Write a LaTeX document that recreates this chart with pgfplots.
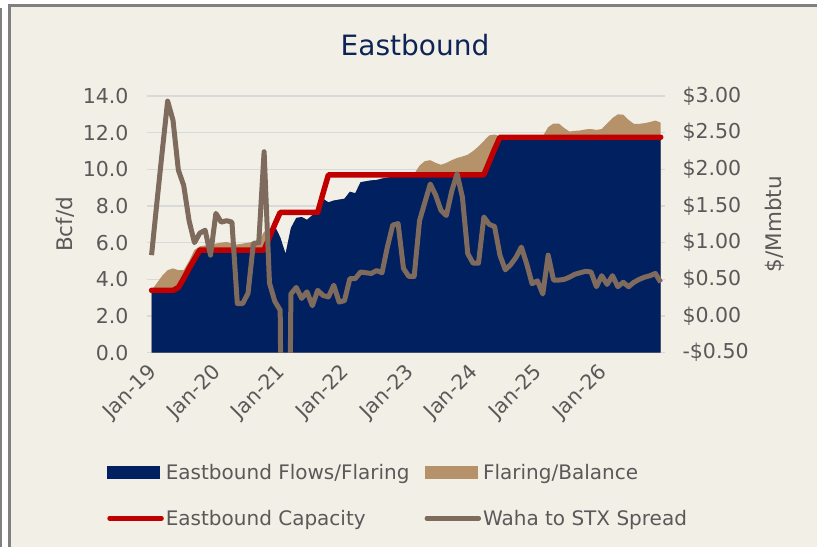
\documentclass[border=0pt]{standalone}
\usepackage{pgfplots}
\pgfplotsset{compat=1.18}
\usepackage{pgfplotstable}
\usepackage{fontspec}
\setmainfont{DejaVu Sans}
\definecolor{bgbeige}{HTML}{F2F0E6}
\definecolor{navy}{HTML}{002060}
\definecolor{tanc}{HTML}{B5926A}
\definecolor{capred}{HTML}{C00000}
\definecolor{spreadgray}{HTML}{7F6A5E}
\definecolor{gridgray}{HTML}{D9D9D9}
\definecolor{txtgray}{HTML}{595959}
\definecolor{titlenavy}{HTML}{0E2356}
\definecolor{framegray}{HTML}{808080}

\pgfplotstableread{
m flows total cap spread
0 3.4 3.4 3.4 0.83
1 3.4 3.8 3.4 1.55
2 3.4 4.2 3.4 2.25
3 3.4 4.5 3.4 2.93
4 3.4 4.6 3.4 2.67
5 3.55 4.5 3.55 1.99
6 4.05 4.5 4.05 1.78
7 4.6 5.0 4.6 1.30
8 5.1 5.6 5.1 1.00
9 5.6 5.8 5.6 1.13
10 5.6 5.85 5.6 1.17
11 5.6 5.87 5.6 0.83
12 5.6 5.95 5.6 1.40
13 5.6 6.0 5.6 1.28
14 5.6 6.04 5.6 1.30
15 5.6 5.95 5.6 1.28
16 5.6 5.9 5.6 0.17
17 5.6 5.95 5.6 0.17
18 5.6 6.0 5.6 0.31
19 5.6 6.05 5.6 0.99
20 5.6 6.1 5.6 1.00
21 5.6 6.6 5.6 2.24
22 6.3 6.7 6.3 0.45
23 6.9 6.9 7.0 0.20
24 6.3 6.3 7.65 0.08
25 5.4 5.4 7.65 -8
26 6.8 6.8 7.65 0.30
27 7.35 7.35 7.65 0.39
28 7.4 7.4 7.65 0.24
29 7.25 7.25 7.65 0.33
30 7.5 7.5 7.65 0.14
31 7.6 7.6 7.65 0.35
32 8.4 8.4 8.7 0.28
33 8.2 8.2 9.7 0.26
34 8.3 8.3 9.7 0.42
35 8.35 8.35 9.7 0.19
36 8.4 8.4 9.7 0.21
37 8.78 8.78 9.7 0.51
38 8.7 8.7 9.7 0.51
39 9.3 9.3 9.7 0.60
40 9.35 9.35 9.7 0.59
41 9.4 9.4 9.7 0.58
42 9.42 9.42 9.7 0.62
43 9.5 9.5 9.7 0.59
44 9.55 9.55 9.7 0.94
45 9.6 9.6 9.7 1.24
46 9.7 9.7 9.7 1.26
47 9.7 9.7 9.7 0.65
48 9.7 9.7 9.7 0.54
49 9.7 9.75 9.7 0.54
50 9.7 10.2 9.7 1.30
51 9.7 10.45 9.7 1.55
52 9.7 10.5 9.7 1.80
53 9.7 10.35 9.7 1.65
54 9.7 10.25 9.7 1.44
55 9.7 10.35 9.7 1.37
56 9.7 10.5 9.7 1.70
57 9.7 10.62 9.7 1.94
58 9.7 10.7 9.7 1.62
59 9.7 10.8 9.7 0.85
60 9.7 11.0 9.7 0.72
61 9.7 11.25 9.7 0.72
62 9.7 11.55 9.7 1.35
63 10.4 11.85 10.4 1.25
64 11.1 11.9 11.1 1.22
65 11.75 11.8 11.75 0.83
66 11.75 11.75 11.75 0.63
67 11.75 11.75 11.75 0.70
68 11.75 11.75 11.75 0.80
69 11.75 11.75 11.75 0.94
70 11.75 11.75 11.75 0.71
71 11.75 11.75 11.75 0.44
72 11.75 11.75 11.75 0.48
73 11.75 11.8 11.75 0.30
74 11.75 12.3 11.75 0.83
75 11.75 12.5 11.75 0.49
76 11.75 12.5 11.75 0.49
77 11.75 12.25 11.75 0.50
78 11.75 12.06 11.75 0.53
79 11.75 12.1 11.75 0.57
80 11.75 12.12 11.75 0.59
81 11.75 12.18 11.75 0.61
82 11.75 12.2 11.75 0.60
83 11.75 12.15 11.75 0.40
84 11.75 12.2 11.75 0.55
85 11.75 12.5 11.75 0.43
86 11.75 12.8 11.75 0.55
87 11.75 13.0 11.75 0.40
88 11.75 12.98 11.75 0.46
89 11.75 12.7 11.75 0.40
90 11.75 12.48 11.75 0.46
91 11.75 12.48 11.75 0.50
92 11.75 12.52 11.75 0.53
93 11.75 12.58 11.75 0.55
94 11.75 12.66 11.75 0.58
95 11.75 12.55 11.75 0.46
}\datatable

\newcommand{\tickfont}{\fontsize{20.5bp}{24bp}\selectfont}
\newcommand{\legfont}{\fontsize{20bp}{24bp}\selectfont}
\newcommand{\labfont}{\fontsize{21.5bp}{25bp}\selectfont}

\begin{document}
\begin{tikzpicture}
\useasboundingbox (0,0) rectangle (817bp,547bp);
\fill[white] (0,0) rectangle (817bp,547bp);
\fill[bgbeige] (8bp,0) rectangle (817bp,543bp);
\draw[framegray, line width=2bp] (1bp,0) -- (1bp,539bp);
\draw[framegray, line width=3bp] (9.5bp,0) -- (9.5bp,543bp);
\draw[framegray, line width=2.5bp] (8bp,541.5bp) -- (817bp,541.5bp);
\node[font=\fontsize{28bp}{32bp}\selectfont, text=titlenavy] at (415bp,502bp) {Eastbound};

\begin{axis}[
 at={(147bp,194.3bp)}, anchor=south west,
 scale only axis, width=518bp, height=256.7bp,
 xmin=-0.85, xmax=95.8, ymin=0, ymax=14,
 axis line style={draw=none},
 major tick length=0pt,
 ymajorgrids, major grid style={gridgray, line width=1.3bp},
 ytick={0,2,4,6,8,10,12,14},
 yticklabels={0.0,2.0,4.0,6.0,8.0,10.0,12.0,14.0},
 yticklabel style={font=\tickfont, text=txtgray, anchor=east, xshift=-15bp},
 xtick={0,12,24,36,48,60,72,84},
 xticklabels={Jan-19,Jan-20,Jan-21,Jan-22,Jan-23,Jan-24,Jan-25,Jan-26},
 xticklabel style={font=\tickfont, text=txtgray, rotate=45, anchor=east, xshift=-7bp, yshift=-13bp},
 ylabel={Bcf/d},
 ylabel style={at={(axis description cs:-0.158,0.5)}, anchor=center, font=\labfont, text=txtgray},
]
\addplot[fill=tanc, draw=none, forget plot] table[x=m, y=total] {\datatable} \closedcycle;
\addplot[fill=navy, draw=none, forget plot] table[x=m, y=flows] {\datatable} \closedcycle;
\addplot[capred, line width=5.5bp, line join=round, line cap=round, forget plot] table[x=m, y=cap] {\datatable};
\end{axis}

\begin{axis}[
 at={(147bp,194.3bp)}, anchor=south west,
 scale only axis, width=518bp, height=256.7bp,
 xmin=-0.85, xmax=95.8, ymin=-0.5, ymax=3,
 axis line style={draw=none},
 major tick length=0pt,
 xtick=\empty,
 ytick={-0.5,0,0.5,1,1.5,2,2.5,3},
 yticklabels={-\$0.50,\$0.00,\$0.50,\$1.00,\$1.50,\$2.00,\$2.50,\$3.00},
 yticklabel pos=right,
 yticklabel style={font=\tickfont, text=txtgray, anchor=west, xshift=14bp},
 ylabel={\$/Mmbtu},
 ylabel style={at={(axis description cs:1.212,0.5)}, anchor=center, font=\labfont, text=txtgray, rotate=0},
 legend columns=2,
 legend cell align=left,
 legend style={at={(axis description cs:-0.077,-0.426)}, anchor=north west, draw=none, fill=none,
   font=\legfont, text=txtgray, inner sep=0pt, row sep=25bp,
   /tikz/every even column/.append style={column sep=13bp}},
]
\addlegendimage{legend image code/.code={\fill[navy] (0bp,-6bp) rectangle (52bp,6bp);}}
\addlegendentry{Eastbound Flows/Flaring}
\addlegendimage{legend image code/.code={\fill[tanc] (0bp,-6bp) rectangle (52bp,6bp);}}
\addlegendentry{Flaring/Balance}
\addlegendimage{legend image code/.code={\draw[capred, line width=4.5bp, line cap=round] (2bp,0bp) -- (54bp,0bp);}}
\addlegendentry{Eastbound Capacity}
\addlegendimage{legend image code/.code={\draw[spreadgray, line width=4.5bp, line cap=round] (2bp,0bp) -- (54bp,0bp);}}
\addlegendentry{Waha to STX Spread}
\addplot[spreadgray, line width=5bp, line join=round, forget plot] table[x=m, y=spread] {\datatable};
\end{axis}
\end{tikzpicture}
\end{document}
